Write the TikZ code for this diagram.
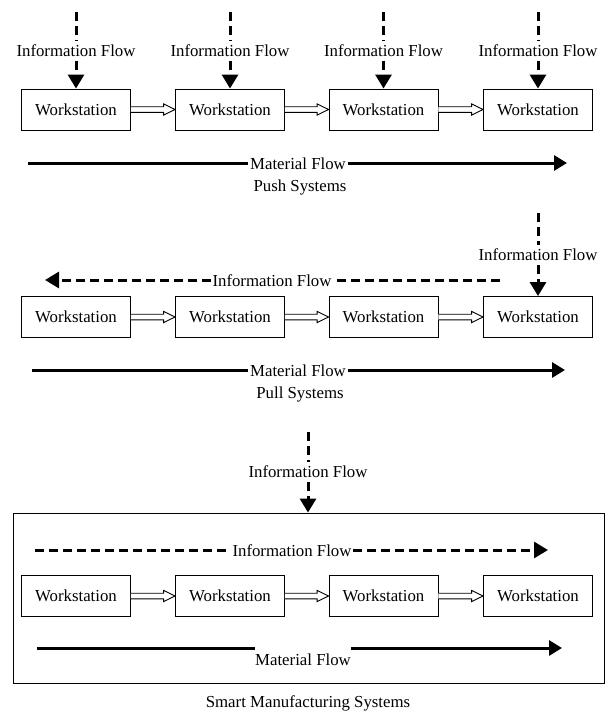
\documentclass[tikz,border=0pt]{standalone}
\usepackage{fontspec}
\setmainfont{Liberation Serif}
\usetikzlibrary{arrows.meta,calc}

\tikzset{
  ws/.style={draw, line width=0.9pt, minimum width=109pt, minimum height=41pt,
             inner sep=0pt, fill=white},
  vlbl/.style={inner xsep=0pt, inner ysep=4pt},
  hlbl/.style={inner xsep=1.5pt, inner ysep=0pt},
  dashline/.style={line width=3pt, dash pattern=on 9pt off 5pt},
  infoflow/.style={dashline, -{Triangle[length=14pt,width=16pt]}},
  solidline/.style={line width=3pt},
  matflow/.style={solidline, -{Triangle[length=13pt,width=15pt]}},
  hollow/.style={line width=0.9pt, fill=white, line join=miter},
  frame/.style={draw, line width=0.9pt},
}

% open block arrow between two workstations
\newcommand\hollowlink[2]{%
  \draw[hollow] ($(#1.east)+(0,-2.8)$) -- ($(#2.west)+(-11.5,-2.8)$)
    -- ($(#2.west)+(-11.5,-5.6)$) -- (#2.west) -- ($(#2.west)+(-11.5,5.6)$)
    -- ($(#2.west)+(-11.5,2.8)$) -- ($(#1.east)+(0,2.8)$);}

\begin{document}
\begin{tikzpicture}[x=1pt, y=-1pt, font=\fontsize{16.8}{20}\selectfont]
\useasboundingbox (0,0) rectangle (608,715);

% ---------------- Push systems ----------------
\foreach \i/\x in {1/76, 2/230, 3/383.5, 4/538}{
  \node[ws] (pa\i) at (\x,109.5) {Workstation};
  \coordinate (pi\i) at (\x,12);
  \node[vlbl] (pl\i) at (\x,50.5) {Information Flow};
  \draw[dashline] (pi\i) -- (pl\i.north);
  \draw[infoflow] (pl\i.south) -- (pa\i.north);
}
\hollowlink{pa1}{pa2}
\hollowlink{pa2}{pa3}
\hollowlink{pa3}{pa4}
\coordinate (pm0) at (28,163);
\coordinate (pm1) at (567,163);
\node[hlbl] (pml) at (298,164) {Material Flow};
\draw[solidline] (pm0) -- (pml.west |- pm0);
\draw[matflow] (pml.east |- pm0) -- (pm1);
\node (pushcap) at (300,187) {Push Systems};

% ---------------- Pull systems ----------------
\foreach \i/\x in {1/76, 2/230, 3/383.5, 4/538}{
  \node[ws] (pb\i) at (\x,317) {Workstation};
}
\hollowlink{pb1}{pb2}
\hollowlink{pb2}{pb3}
\hollowlink{pb3}{pb4}
\coordinate (pt) at (538,213);
\node[vlbl] (ptl) at (538,255) {Information Flow};
\draw[dashline] (pt) -- (ptl.north);
\draw[infoflow] (ptl.south) -- (pb4.north);
\coordinate (ph0) at (500,280);
\coordinate (ph1) at (45,280);
\node[hlbl] (phl) at (272,281) {Information Flow};
\draw[dashline] (ph0) -- (phl.east |- ph0);
\draw[infoflow] (phl.west |- ph0) -- (ph1);
\coordinate (qm0) at (32,370);
\coordinate (qm1) at (565,370);
\node[hlbl] (qml) at (298,371) {Material Flow};
\draw[solidline] (qm0) -- (qml.west |- qm0);
\draw[matflow] (qml.east |- qm0) -- (qm1);
\node (pullcap) at (300,394) {Pull Systems};

% ---------------- Smart manufacturing systems ----------------
\node[frame, minimum width=591pt, minimum height=170pt, inner sep=0pt]
  (smart) at (308.5,598) {};
\foreach \i/\x in {1/76, 2/230, 3/383.5, 4/538}{
  \node[ws] (sc\i) at (\x,596) {Workstation};
}
\hollowlink{sc1}{sc2}
\hollowlink{sc2}{sc3}
\hollowlink{sc3}{sc4}
\coordinate (st) at (308,432);
\node[vlbl] (stl) at (308,472) {Information Flow};
\draw[dashline] (st) -- (stl.north);
\draw[infoflow] (stl.south) -- (smart.north -| st);
\coordinate (sh0) at (35,550);
\coordinate (sh1) at (548,550);
\node[hlbl] (shl) at (292,551) {Information Flow};
\draw[dashline] (sh0) -- (shl.west |- sh0);
\draw[infoflow] (shl.east |- sh0) -- (sh1);
\coordinate (sm0) at (37,648);
\coordinate (sm1) at (562,648);
\node[inner xsep=0pt] (smlbl) at (303,660) {Material Flow};
\draw[solidline] (sm0) -- (smlbl.west |- sm0);
\draw[matflow] (smlbl.east |- sm0) -- (sm1);
\node (smartcap) at (308,703) {Smart Manufacturing Systems};
\end{tikzpicture}
\end{document}
